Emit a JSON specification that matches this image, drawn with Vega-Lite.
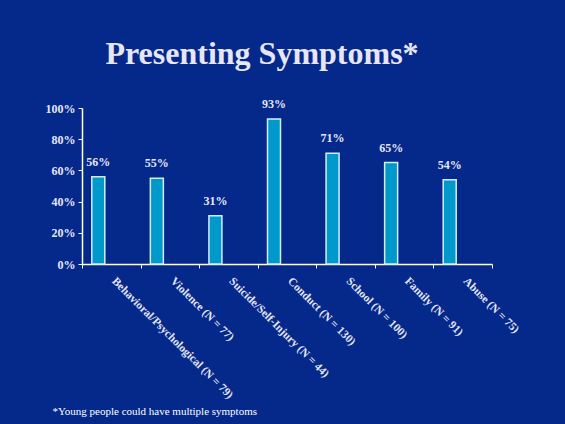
{
  "$schema": "https://vega.github.io/schema/vega-lite/v6.json",
  "autosize": "none",
  "width": 410,
  "height": 156,
  "padding": {"left": 82, "top": 108, "right": 73, "bottom": 160},
  "background": "#04298a",
  "title": {
    "text": "Presenting Symptoms*",
    "font": "Liberation Serif",
    "fontSize": 32,
    "fontWeight": "bold",
    "color": "#e6e6f5",
    "anchor": "middle",
    "dx": -25,
    "offset": 27
  },
  "data": {
    "values": [
      {"symptom": "Behavioral/Psychological (N = 79)", "pct": 0.56},
      {"symptom": "Violence (N = 77)", "pct": 0.55},
      {"symptom": "Suicide/Self-Injury (N = 44)", "pct": 0.31},
      {"symptom": "Conduct (N = 130)", "pct": 0.93},
      {"symptom": "School (N = 100)", "pct": 0.71},
      {"symptom": "Family (N = 91)", "pct": 0.65},
      {"symptom": "Abuse (N = 75)", "pct": 0.54}
    ]
  },
  "encoding": {
    "x": {
      "field": "symptom",
      "type": "nominal",
      "sort": null,
      "scale": {"paddingInner": 0, "paddingOuter": 0},
      "axis": {
        "title": "*Young people could have multiple symptoms",
        "titleFont": "Liberation Serif",
        "titleFontSize": 11,
        "titleFontWeight": "normal",
        "titleColor": "#ffffff",
        "titleAnchor": "start",
        "titleAlign": "left",
        "titleBaseline": "alphabetic",
        "titleX": -30,
        "titleY": 150,
        "labelAngle": 45,
        "labelAlign": "left",
        "labelBaseline": "top",
        "labelFont": "Liberation Serif",
        "labelFontSize": 11.5,
        "labelFontWeight": "bold",
        "labelColor": "#e6e6f5",
        "labelPadding": 7,
        "labelLimit": 300,
        "labelOffset": 6,
        "domainColor": "#ffffff",
        "domainWidth": 1.5,
        "tickColor": "#ffffff",
        "tickSize": 4,
        "tickBand": "extent",
        "grid": false
      }
    },
    "y": {
      "field": "pct",
      "type": "quantitative",
      "scale": {"domain": [0, 1]},
      "axis": {
        "title": null,
        "values": [0, 0.2, 0.4, 0.6, 0.8, 1],
        "format": ".0%",
        "labelFont": "Liberation Serif",
        "labelFontSize": 12,
        "labelFontWeight": "bold",
        "labelColor": "#e6e6f5",
        "labelPadding": 3,
        "domainColor": "#ffffff",
        "domainWidth": 1.5,
        "tickColor": "#ffffff",
        "tickSize": 4,
        "grid": false
      }
    }
  },
  "layer": [
    {
      "mark": {"type": "bar", "width": 13, "xOffset": -13, "fill": "#0099cc", "stroke": "#d6ecf5", "strokeWidth": 1.5}
    },
    {
      "mark": {"type": "text", "xOffset": -13, "dy": -8, "baseline": "bottom", "font": "Liberation Serif", "fontSize": 12, "fontWeight": "bold", "color": "#e6e6f5"},
      "encoding": {
        "text": {"field": "pct", "type": "quantitative", "format": ".0%"}
      }
    }
  ],
  "config": {"view": {"stroke": null}}
}
